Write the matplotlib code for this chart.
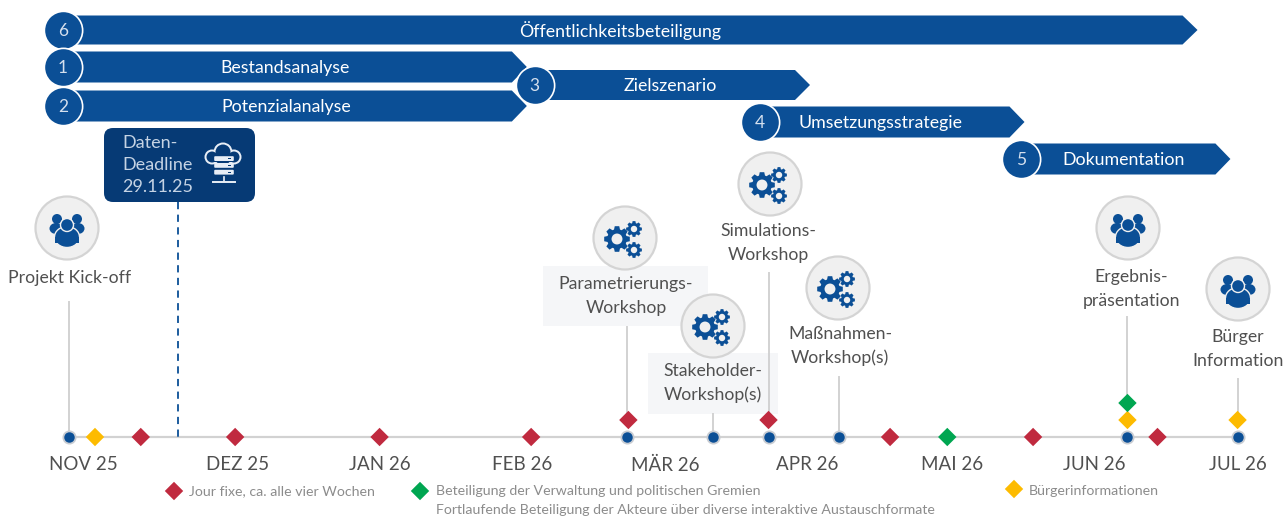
import matplotlib
import matplotlib.pyplot as plt
import numpy as np
from matplotlib.patches import Circle, Ellipse, FancyBboxPatch, Polygon, Rectangle

matplotlib.use('Agg')

plt.rcParams['font.family'] = ['Lato', 'DejaVu Sans']

W, H = 1286, 518
PX_PER_MONTH = 143
NOV_PX = 95

BLUE = "#0b4f96"
DARK_BLUE = "#063a75"
RED = "#c02a3f"
YELLOW = "#fdbb00"
GREEN = "#00a651"
LINE = "#d2d2d2"
TEXT = "#505050"

# everything below is in months after Nov 25
month_labels = ["NOV 25", "DEZ 25", "JAN 26", "FEB 26", "MÄR 26", "APR 26", "MAI 26", "JUN 26", "JUL 26"]
month_ticks = [-0.08, 1.00, 1.99, 2.99, 3.99, 4.98, 5.99, 6.99, 7.99]

phase_nums = ["6", "1", "2", "3", "4", "5"]
phase_names = ["Öffentlichkeitsbeteiligung", "Bestandsanalyse", "Potenzialanalyse",
               "Zielszenario", "Umsetzungsstrategie", "Dokumentation"]
phase_start = [-0.225, -0.225, -0.225, 3.075, 4.65, 6.475]
phase_end = [7.71, 3.02, 3.02, 5.00, 6.50, 7.94]

meeting_months = [-0.18, 3.72, 4.32, 4.71, 5.20, 7.22, 7.99]

jour_fixe_months = [0.32, 0.98, 1.99, 3.05, 3.73, 4.71, 5.56, 6.56, 7.43]
jour_fixe_level = [0, 0, 0, 0, 1, 1, 0, 0, 0]
buerger_months = [0.0, 7.22, 7.99]
buerger_level = [0, 1, 1]
verwaltung_months = [5.96, 7.22]
verwaltung_level = [0, 2]

deadline_month = 0.58

milestone_text = ["Projekt Kick-off", "Parametrierungs-\nWorkshop", "Stakeholder-\nWorkshop(s)",
                  "Simulations-\nWorkshop", "Maßnahmen-\nWorkshop(s)", "Ergebnis-\npräsentation",
                  "Bürger\nInformation"]
milestone_icon = ["people", "gears", "gears", "gears", "gears", "people", "people"]

legend_text = ["Jour fixe, ca. alle vier Wochen",
               "Beteiligung der Verwaltung und politischen Gremien",
               "Fortlaufende Beteiligung der Akteure über diverse interaktive Austauschformate",
               "Bürgerinformationen"]

# layout, pixels from the top left
row_y = [30, 67, 106, 85, 122, 159]
bar_half = [14.5, 15.5, 15.5, 15, 15.5, 15.5]
name_px = [620, 285, 286, 670, 881, 1124]
icon_xy = [(67, 228), (625, 238), (713, 326), (770, 184), (838, 288), (1128, 228), (1238, 289)]
label_xy = [(70, 278), (626, 296), (713, 383), (768, 243), (840, 346), (1131, 289), (1238, 349)]
stem_top = [302, 327, 414, 273, 377, 317, 379]
stem_bottom = [437, 421, 437, 423, 437, 404, 422]
AXIS_Y = 437
LEVEL_STEP = 17


def px(x):
    return (x - NOV_PX) / PX_PER_MONTH


def gear(ax, cx, cy, r, hole, teeth=8):
    pts = []
    step = 2 * np.pi / teeth
    for i in range(teeth):
        a = i * step
        for off, rad in [(-0.30, 0.76), (-0.17, 1.0), (0.17, 1.0), (0.30, 0.76)]:
            pts.append((cx + rad * r * np.cos(a + off * step * 1.3),
                        cy + rad * r * np.sin(a + off * step * 1.3)))
    ax.add_patch(Polygon(pts, closed=True, fc=BLUE, ec='none', zorder=5))
    ax.add_patch(Circle((cx, cy), r * hole, fc="#f0f0f0", ec='none', zorder=6))


def gears_icon(ax, x, y):
    gear(ax, x - 8, y + 1, 13, 0.42)
    gear(ax, x + 9, y - 9, 8, 0.4)
    gear(ax, x + 9, y + 12, 8, 0.4)


def people_icon(ax, x, y):
    bg = "#f0f0f0"
    for sx in (-10, 10):
        ax.add_patch(Circle((x + sx, y - 9), 5, fc=BLUE, ec='none', zorder=5))
        ax.add_patch(Ellipse((x + sx * 1.1, y + 0.5), 13, 11, fc=BLUE, ec='none', zorder=5))
    ax.add_patch(Ellipse((x, y + 9), 25, 21, fc=BLUE, ec=bg, lw=1.0, zorder=6))
    ax.add_patch(Rectangle((x - 12, y + 9), 24, 6, fc=BLUE, ec='none', zorder=6))
    ax.add_patch(Circle((x, y - 3), 6.5, fc=BLUE, ec=bg, lw=1.0, zorder=7))


def cloud_icon(ax, x, y):
    fg = "#e8eef6"
    for cx, cy, r in [(-11, -6, 7.5), (0, -11, 9.5), (11, -6, 7.5)]:
        ax.add_patch(Circle((x + cx, y + cy), r, fc=fg, ec='none', zorder=5))
    for cx, cy, r in [(-11, -6, 5.5), (0, -11, 7.5), (11, -6, 5.5)]:
        ax.add_patch(Circle((x + cx, y + cy), r, fc=DARK_BLUE, ec='none', zorder=6))
    ax.add_patch(Rectangle((x - 13, y - 7), 26, 6, fc=DARK_BLUE, ec='none', zorder=6))
    for i in range(3):
        ax.add_patch(FancyBboxPatch((x - 8, y - 6 + i * 6.8), 18, 3.2, boxstyle="round,pad=0.8,rounding_size=1",
                                    fc=fg, ec='none', zorder=7))
        ax.add_patch(Rectangle((x + 5, y - 5 + i * 6.8), 3, 1.2, fc=DARK_BLUE, ec='none', zorder=8))
    ax.plot([x + 1, x + 1], [y + 14, y + 18], color=fg, lw=1.2, zorder=7)
    ax.plot([x - 10, x + 12], [y + 18.5, y + 18.5], color=fg, lw=1.4, zorder=7)


fig = plt.figure(figsize=(W / 100, H / 100), dpi=100)

# pixel axes for boxes and icons
ax = fig.add_axes([0, 0, 1, 1])
ax.set_xlim(0, W)
ax.set_ylim(H, 0)
ax.axis('off')

# month axes for the schedule itself
tl = fig.add_axes([0, 0, 1, 1])
tl.set_xlim(px(0), px(W))
tl.set_ylim(H, 0)
tl.axis('off')
tl.patch.set_alpha(0)

ax.add_patch(Rectangle((543, 266), 165, 60, fc="#f5f6f8", ec='none', zorder=1))
ax.add_patch(Rectangle((648, 353), 130, 61, fc="#f5f6f8", ec='none', zorder=2))

# phases, bars first so that the badges overlap them
tip = 15 / PX_PER_MONTH
for i in range(len(phase_names)):
    y, h = row_y[i], bar_half[i]
    s, e = phase_start[i], phase_end[i]
    tl.add_patch(Polygon([(s, y - h), (e - tip, y - h), (e, y), (e - tip, y + h), (s, y + h)],
                         closed=True, fc=BLUE, ec='none', zorder=2))
for i in range(len(phase_names)):
    tl.scatter(phase_start[i], row_y[i], s=760, color=BLUE, edgecolors="white", linewidths=1.2, zorder=3)
    tl.text(phase_start[i], row_y[i] + 1, phase_nums[i], color="#d5e0ee", fontsize=12.5,
            ha='center', va='center', zorder=4)
    tl.text(px(name_px[i]), row_y[i] + 1, phase_names[i], color="white", fontsize=12.8,
            ha='center', va='center', zorder=4)

# deadline box
ax.add_patch(FancyBboxPatch((112, 136), 135, 58, boxstyle="round,pad=8,rounding_size=9",
                            fc=DARK_BLUE, ec='none', zorder=3))
ax.text(122, 165, "Daten-\nDeadline\n29.11.25", color="#c5d3e4", fontsize=13, ha='left', va='center',
        linespacing=1.5, zorder=4)
cloud_icon(ax, 223, 163)
tl.plot([deadline_month, deadline_month], [202, AXIS_Y], color=BLUE, lw=1.3, ls=(0, (4, 3)), zorder=2)

# time axis
tl.plot([meeting_months[0], meeting_months[-1]], [AXIS_Y, AXIS_Y], color=LINE, lw=1.6, zorder=1)
for i in range(len(meeting_months)):
    tl.plot([meeting_months[i]] * 2, [stem_top[i], stem_bottom[i]], color=LINE, lw=1.4, zorder=1)
tl.scatter(meeting_months, [AXIS_Y] * len(meeting_months), s=78, color=BLUE, edgecolors="#c8ccd2",
           linewidths=1.3, zorder=5)

for months, levels, col in [(jour_fixe_months, jour_fixe_level, RED),
                            (buerger_months, buerger_level, YELLOW),
                            (verwaltung_months, verwaltung_level, GREEN)]:
    ys = [AXIS_Y - LEVEL_STEP * l for l in levels]
    tl.scatter(months, ys, s=88, marker='D', color=col, edgecolors='none', zorder=6)

for m, name in zip(month_ticks, month_labels):
    tl.text(m, 465, name, color=TEXT, fontsize=13.5, ha='center', va='center')

# milestones
for i in range(len(milestone_text)):
    x, y = icon_xy[i]
    ax.add_patch(Circle((x, y), 31.5, fc="#f0f0f0", ec="#d4d4d4", lw=1.6, zorder=4))
    if milestone_icon[i] == "gears":
        gears_icon(ax, x, y)
    else:
        people_icon(ax, x, y)
    lx, ly = label_xy[i]
    tl.text(px(lx), ly, milestone_text[i], color=TEXT, fontsize=12.7, ha='center', va='center',
            linespacing=1.55, zorder=7)

# legend
tl.scatter([px(174)], [491], s=88, marker='D', color=RED, edgecolors='none')
tl.text(px(189), 491, legend_text[0], color="#8c8c8c", fontsize=10.2, va='center')
tl.scatter([px(420)], [491], s=88, marker='D', color=GREEN, edgecolors='none')
tl.text(px(436), 491, legend_text[1], color="#8c8c8c", fontsize=10.2, va='center')
tl.text(px(436), 510, legend_text[2], color="#8c8c8c", fontsize=10.2, va='center')
tl.scatter([px(1014)], [489], s=88, marker='D', color=YELLOW, edgecolors='none')
tl.text(px(1029), 491, legend_text[3], color="#8c8c8c", fontsize=10.2, va='center')

fig.savefig("out.png", dpi=100)
